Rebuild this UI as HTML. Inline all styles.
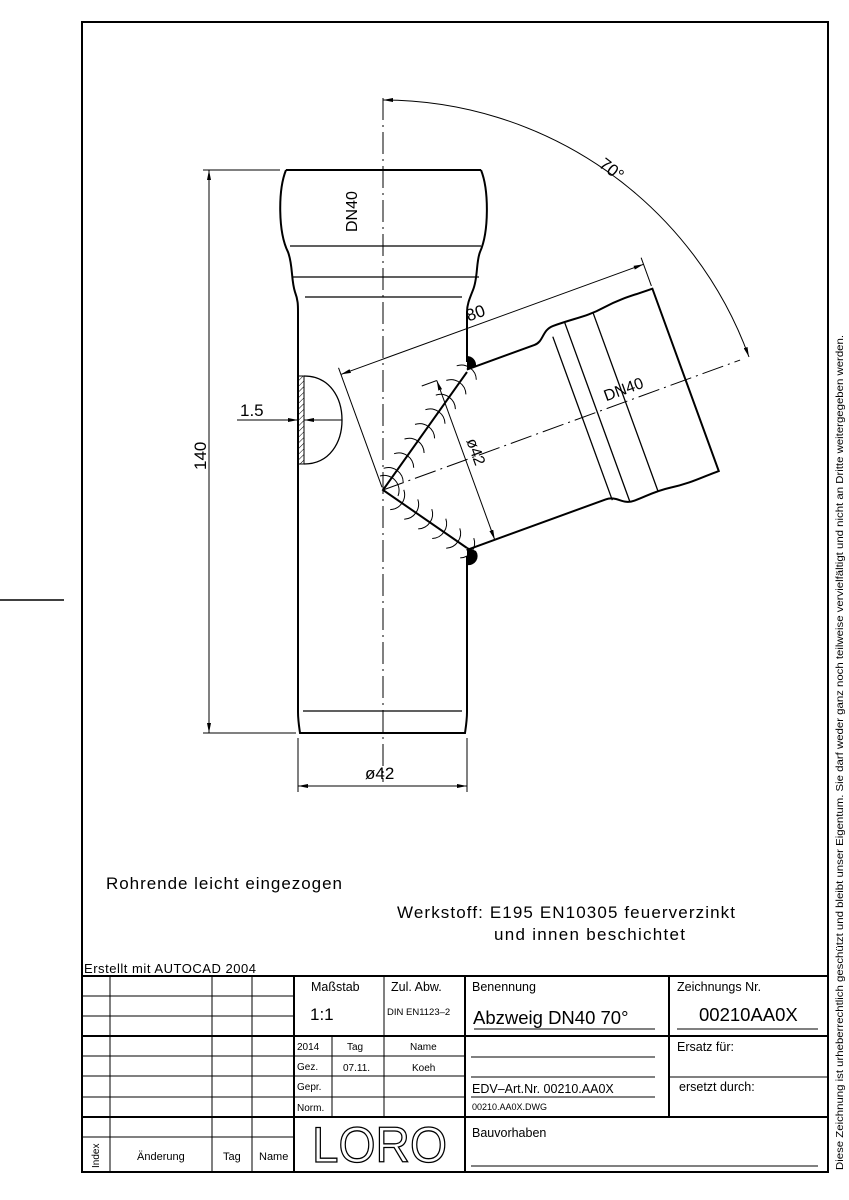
<!DOCTYPE html>
<html><head><meta charset="utf-8"><style>
html,body{margin:0;padding:0;background:#fff}
svg{display:block}
text{font-family:"Liberation Sans",sans-serif;fill:#000}
</style></head><body>
<svg width="849" height="1200" viewBox="0 0 849 1200" xmlns="http://www.w3.org/2000/svg">
<defs>
<marker id="ar" viewBox="0 0 10 4" refX="10" refY="2" markerWidth="10" markerHeight="4" orient="auto-start-reverse" markerUnits="userSpaceOnUse"><path d="M0,0 L10,2 L0,4z" fill="#000"/></marker>
<pattern id="hatch" width="4" height="4" patternUnits="userSpaceOnUse" patternTransform="rotate(45)"><line x1="0" y1="0" x2="0" y2="4" stroke="#000" stroke-width="1"/></pattern>
</defs>
<rect x="82" y="22" width="746" height="1150" fill="none" stroke="#000" stroke-width="2"/>
<line x1="0" y1="600" x2="64" y2="600" stroke="#000" stroke-width="1.5"/>
<text transform="translate(843,1170) rotate(-90)" font-size="10.5" textLength="835" lengthAdjust="spacingAndGlyphs">Diese Zeichnung ist urheberrechtlich geschützt und bleibt unser Eigentum. Sie darf weder ganz noch teilweise vervielfältigt und nicht an Dritte weitergegeben werden.</text>

<line x1="383" y1="98" x2="383" y2="782" stroke="#000" stroke-width="1" stroke-dasharray="22,5,2,5"/>

<g fill="none" stroke="#000" stroke-width="2">
<path d="M286 170 L481 170"/>
<path d="M286 170 C278 190,278 232,288 252 C293 265,291 280,295 292 C298 300,298 305,298 312 L298 712 C298 720,299 726,300 733 L465 733 C466 726,467 720,467 712 L467 556"/>
<path d="M481 170 C489 190,489 232,480 252 C476 262,478 278,473 290 C469 300,467 305,467 312 L467 362"/>
</g>
<g stroke="#000" stroke-width="1.3">
<line x1="290" y1="246" x2="481" y2="246"/>
<line x1="292" y1="277" x2="479" y2="277"/>
<line x1="305" y1="297" x2="462" y2="297"/>
<line x1="303" y1="711" x2="462" y2="711"/>
</g>
<text transform="translate(357,232) rotate(-90)" font-size="16">DN40</text>

<path d="M467 356 A9 9 0 0 1 476 366 L467 370z" fill="#000"/>
<path d="M467 547 L476 551 A9 9 0 0 1 467 565z" fill="#000"/>

<path d="M467 372 L383 490 L467 548" fill="none" stroke="#000" stroke-width="2"/>
<g fill="none" stroke="#000" stroke-width="1">
<path d="M383.6 468.3A15 15 0 0 1 403.2 482.3"/>
<path d="M394.1 453.7A15 15 0 0 1 413.7 467.7"/>
<path d="M404.5 439A15 15 0 0 1 424.1 453"/>
<path d="M415 424.4A15 15 0 0 1 434.6 438.4"/>
<path d="M425.4 409.7A15 15 0 0 1 445 423.7"/>
<path d="M435.8 395.1A15 15 0 0 1 455.4 409.1"/>
<path d="M446.3 380.4A15 15 0 0 1 465.9 394.4"/>
<path d="M456.7 365.8A15 15 0 0 1 476.3 379.8"/>
<path d="M403.8 489.8A15 15 0 0 1 390.2 509.6"/>
<path d="M417.8 499.4A15 15 0 0 1 404.2 519.2"/>
<path d="M431.8 509.1A15 15 0 0 1 418.2 528.9"/>
<path d="M445.8 518.7A15 15 0 0 1 432.2 538.5"/>
<path d="M459.8 528.4A15 15 0 0 1 446.2 548.2"/>
<path d="M473.8 538.1A15 15 0 0 1 460.2 557.9"/>
<path d="M380 476A15 15 0 0 1 398 496"/>
</g>

<g transform="translate(383,490) rotate(-20)">
<line x1="0" y1="0" x2="380" y2="0" stroke="#000" stroke-width="1" stroke-dasharray="22,5,2,5"/>
<g fill="none" stroke="#000" stroke-width="2">
<path d="M120 -84.5 L192 -84.5 C202 -84.5,204 -96,216 -96 C240 -96,250 -93,270 -96 C290 -99,305 -97,322 -97 L322 97 C305 97,290 99,270 96 C255 94,245 96,232 96 C220 96,218 85,206 85 L58 85"/>
</g>
<g stroke="#000" stroke-width="1.3">
<line x1="212" y1="-86" x2="212" y2="88"/>
<line x1="228" y1="-96" x2="228" y2="96"/>
<line x1="258" y1="-94" x2="258" y2="95"/>
</g>
<g stroke="#000" stroke-width="1" fill="none">
<line x1="0" y1="-3" x2="0" y2="-130"/>
<line x1="322" y1="-100" x2="322" y2="-130"/>
<line x1="0" y1="-123" x2="322" y2="-123" marker-start="url(#ar)" marker-end="url(#ar)"/>
<line x1="88" y1="-84.5" x2="88" y2="85" marker-start="url(#ar)" marker-end="url(#ar)"/>
<line x1="88" y1="-84.5" x2="72" y2="-84.5"/>
</g>
<text x="138" y="-129" font-size="17">80</text>
<text x="240" y="-7" font-size="16">DN40</text>
<text transform="translate(95,-18) rotate(90)" font-size="16">ø42</text>
</g>

<path d="M383 100 A390 390 0 0 1 749 357" fill="none" stroke="#000" stroke-width="1" marker-start="url(#ar)" marker-end="url(#ar)"/>
<text transform="translate(598,166) rotate(38)" font-size="17">70°</text>

<rect x="298" y="376" width="6" height="88" fill="url(#hatch)" stroke="#000" stroke-width="1"/>
<path d="M304 376 C330 376,342 398,342 420 C342 442,330 464,304 464" fill="none" stroke="#000" stroke-width="1.3"/>
<line x1="237" y1="420" x2="298" y2="420" stroke="#000" stroke-width="1" marker-end="url(#ar)"/>
<line x1="342" y1="420" x2="304" y2="420" stroke="#000" stroke-width="1" marker-end="url(#ar)"/>
<text x="240" y="416" font-size="17">1.5</text>

<g stroke="#000" stroke-width="1">
<line x1="203" y1="170" x2="280" y2="170"/>
<line x1="203" y1="733" x2="296" y2="733"/>
<line x1="209" y1="170" x2="209" y2="733" marker-start="url(#ar)" marker-end="url(#ar)"/>
<line x1="298" y1="738" x2="298" y2="792"/>
<line x1="467" y1="738" x2="467" y2="792"/>
<line x1="298" y1="786" x2="467" y2="786" marker-start="url(#ar)" marker-end="url(#ar)"/>
</g>
<text transform="translate(206,470) rotate(-90)" font-size="17">140</text>
<text x="365" y="779" font-size="17">ø42</text>

<text x="106" y="889" font-size="17" textLength="236" lengthAdjust="spacing">Rohrende leicht eingezogen</text>
<text x="397" y="918" font-size="17" textLength="338" lengthAdjust="spacing">Werkstoff:  E195  EN10305  feuerverzinkt</text>
<text x="494" y="940" font-size="17" textLength="191" lengthAdjust="spacing">und innen beschichtet</text>
<text x="84" y="973" font-size="13" textLength="172" lengthAdjust="spacing">Erstellt mit AUTOCAD 2004</text>

<g stroke="#000" fill="none">
<line x1="82" y1="976" x2="828" y2="976" stroke-width="2"/>
<g stroke-width="1">
<line x1="82" y1="996" x2="294" y2="996"/><line x1="82" y1="1016" x2="294" y2="1016"/>
<line x1="82" y1="1056" x2="294" y2="1056"/><line x1="82" y1="1076" x2="294" y2="1076"/>
<line x1="82" y1="1097" x2="294" y2="1097"/><line x1="82" y1="1137" x2="294" y2="1137"/>
<line x1="110" y1="976" x2="110" y2="1172"/><line x1="212" y1="976" x2="212" y2="1172"/><line x1="252" y1="976" x2="252" y2="1172"/>
<line x1="294" y1="1056" x2="465" y2="1056"/><line x1="294" y1="1076" x2="465" y2="1076"/><line x1="294" y1="1097" x2="465" y2="1097"/>
<line x1="332" y1="1036" x2="332" y2="1117"/><line x1="384" y1="976" x2="384" y2="1117"/>
<line x1="474" y1="1029" x2="655" y2="1029"/><line x1="677" y1="1029" x2="818" y2="1029"/>
<line x1="471" y1="1057" x2="655" y2="1057"/><line x1="471" y1="1077" x2="655" y2="1077"/>
<line x1="471" y1="1097" x2="655" y2="1097"/><line x1="669" y1="1077" x2="828" y2="1077"/>
<line x1="471" y1="1166" x2="818" y2="1166"/>
</g>
<g stroke-width="2">
<line x1="82" y1="1036" x2="828" y2="1036"/>
<line x1="82" y1="1117" x2="828" y2="1117"/>
<line x1="294" y1="976" x2="294" y2="1172"/>
<line x1="465" y1="976" x2="465" y2="1172"/>
<line x1="669" y1="976" x2="669" y2="1117"/>
</g>
</g>
<g font-size="12.5">
<text x="311" y="991">Maßstab</text>
<text x="391" y="991">Zul. Abw.</text>
<text x="472" y="991">Benennung</text>
<text x="677" y="991">Zeichnungs Nr.</text>
<text x="677" y="1051">Ersatz für:</text>
<text x="679" y="1091">ersetzt durch:</text>
<text x="472" y="1093">EDV–Art.Nr. 00210.AA0X</text>
<text x="472" y="1137">Bauvorhaben</text>
<text x="137" y="1160" font-size="11">Änderung</text>
<text x="223" y="1160" font-size="11">Tag</text>
<text x="259" y="1160" font-size="11">Name</text>
</g>
<text x="310" y="1020" font-size="17">1:1</text>
<text x="387" y="1015" font-size="9.5">DIN EN1123–2</text>
<text x="473" y="1024" font-size="18.5">Abzweig DN40 70°</text>
<text x="699" y="1021" font-size="18.5">00210AA0X</text>
<text x="472" y="1110" font-size="9">00210.AA0X.DWG</text>
<g font-size="10">
<text x="297" y="1050">2014</text><text x="347" y="1050">Tag</text><text x="410" y="1050">Name</text>
<text x="297" y="1070">Gez.</text><text x="343" y="1071">07.11.</text><text x="412" y="1071">Koeh</text>
<text x="297" y="1090">Gepr.</text><text x="297" y="1111">Norm.</text>
</g>
<text transform="translate(99,1168) rotate(-90)" font-size="10">Index</text>
<text x="312" y="1162" font-size="50" stroke="#000" stroke-width="1.3" textLength="135" lengthAdjust="spacingAndGlyphs" style="fill:#fff">LORO</text>
</svg>
</body></html>
